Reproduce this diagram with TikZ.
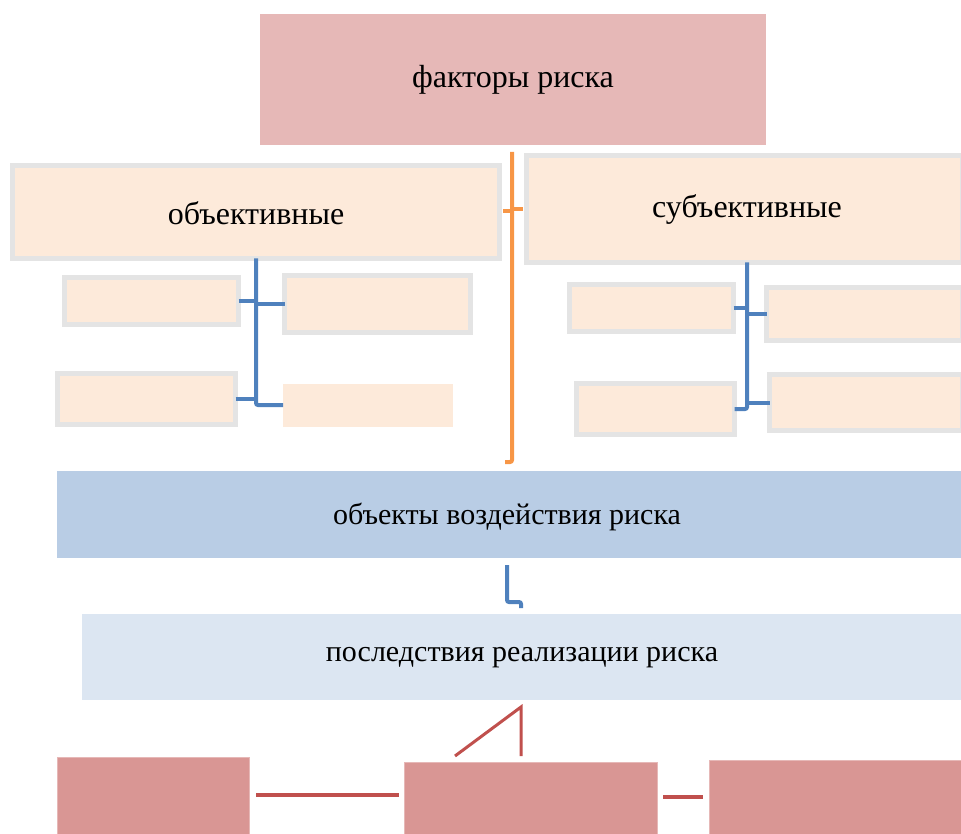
\documentclass[tikz,border=0pt]{standalone}
\usepackage{fontspec}
\setmainfont{Liberation Serif}
\definecolor{topc}{HTML}{E6B8B7}
\definecolor{peach}{HTML}{FDEADA}
\definecolor{grayb}{HTML}{E4E4E4}
\definecolor{bluebox}{HTML}{B9CDE5}
\definecolor{lightbox}{HTML}{DCE6F2}
\definecolor{redbox}{HTML}{D99694}
\definecolor{redline}{HTML}{C0504D}
\definecolor{blueline}{HTML}{4F81BD}
\definecolor{orangeline}{HTML}{F79646}
\begin{document}
\begin{tikzpicture}[x=1pt,y=-1pt,
  box/.style={rectangle,inner sep=0pt,outer sep=0pt},
  gbox/.style={box,fill=peach,draw=grayb,line width=5pt},
  pbox/.style={box,fill=peach},
  rbox/.style={box,fill=redbox,draw=topc,line width=0.8pt},
  bl/.style={draw=blueline,line width=4pt},
  ol/.style={draw=orangeline,line width=4pt},
  rl/.style={draw=redline,line width=4pt},
  bigtxt/.style={font=\fontsize{32}{36}\selectfont},
  midtxt/.style={font=\fontsize{30}{34}\selectfont}]
\useasboundingbox (0,0) rectangle (961,834);
\clip (0,0) rectangle (961,834);
% coordinates for connector ends
\coordinate (tl) at (256,405);
\coordinate (tr) at (747,409);
\coordinate (otop) at (512,152);
\coordinate (obot) at (512,462);
\coordinate (oend) at (505,462);
\coordinate (btop) at (507,565);
\coordinate (bmid) at (507,602);
\coordinate (bmid2) at (521,602);
\coordinate (bend) at (521,608);
\coordinate (dl) at (455,756);
\coordinate (dt) at (521,707);
\coordinate (db) at (521,756);
% connectors
\draw[ol,rounded corners=2pt] (otop) -- (obot) -- (oend);
\draw[ol] (503,211) -- (512,211);
\draw[ol] (512,209) -- (523,209);
\draw[bl,rounded corners=2pt] (btop) -- (bmid) -- (bmid2) -- (bend);
\draw[redline,line width=3pt,line join=miter] (dl) -- (dt) -- (db);
% boxes
\node[box,fill=topc,minimum width=506pt,minimum height=131pt,bigtxt] (T) at (513,79.5) {факторы риска};
\node[gbox,minimum width=487pt,minimum height=93pt] (L) at (256,212) {};
\node[bigtxt] at (256,213) {объективные};
\node[gbox,minimum width=436pt,minimum height=107pt] (R) at (744.5,209) {};
\node[bigtxt] at (747,210) {субъективные};
\node[gbox,minimum width=174pt,minimum height=47pt] (b1) at (151.5,301) {};
\node[gbox,minimum width=186pt,minimum height=57pt] (b2) at (377.5,304) {};
\node[gbox,minimum width=178pt,minimum height=51pt] (b3) at (146.5,399) {};
\node[pbox,minimum width=170pt,minimum height=43pt] (b4) at (368,405.5) {};
\node[gbox,minimum width=164pt,minimum height=47pt] (b5) at (651.5,308) {};
\node[gbox,minimum width=196pt,minimum height=53pt] (b6) at (864.5,314) {};
\node[gbox,minimum width=158pt,minimum height=51pt] (b7) at (655.5,409) {};
\node[gbox,minimum width=193pt,minimum height=56pt] (b8) at (866,402.5) {};
\node[box,fill=bluebox,minimum width=908pt,minimum height=87pt] (B) at (511,514.5) {};
\node[midtxt] at (507,517) {объекты воздействия риска};
\node[box,fill=lightbox,minimum width=883pt,minimum height=86pt] (C) at (523.5,657) {};
\node[midtxt] at (522,658) {последствия реализации риска};
\node[rbox,minimum width=192pt,minimum height=83pt] (RL) at (153,798.5) {};
\node[rbox,minimum width=253pt,minimum height=78pt] (RM) at (530.5,801) {};
\node[rbox,minimum width=256pt,minimum height=80pt] (RR) at (837,800) {};
% blue trees
\draw[bl,rounded corners=2pt] (L.south) -- (tl) -- (b4.west |- tl);
\draw[bl] (b1.east) -- (b1.east -| tl);
\draw[bl] (b2.west -| tl) -- (b2.west);
\draw[bl] (b3.east) -- (b3.east -| tl);
\draw[bl,rounded corners=2pt] (tr |- R.south) -- (tr) -- (b7.east);
\draw[bl] (b5.east) -- (b5.east -| tr);
\draw[bl] (b6.west -| tr) -- (b6.west);
\draw[bl] (b8.west -| tr) -- (b8.west);
% red horizontal links
\draw[rl] ([xshift=7pt]RL.east |- 0,795) -- ([xshift=-5pt]RM.west |- 0,795);
\draw[rl] ([xshift=6pt]RM.east |- 0,797) -- ([xshift=-6pt]RR.west |- 0,797);
\end{tikzpicture}
\end{document}
